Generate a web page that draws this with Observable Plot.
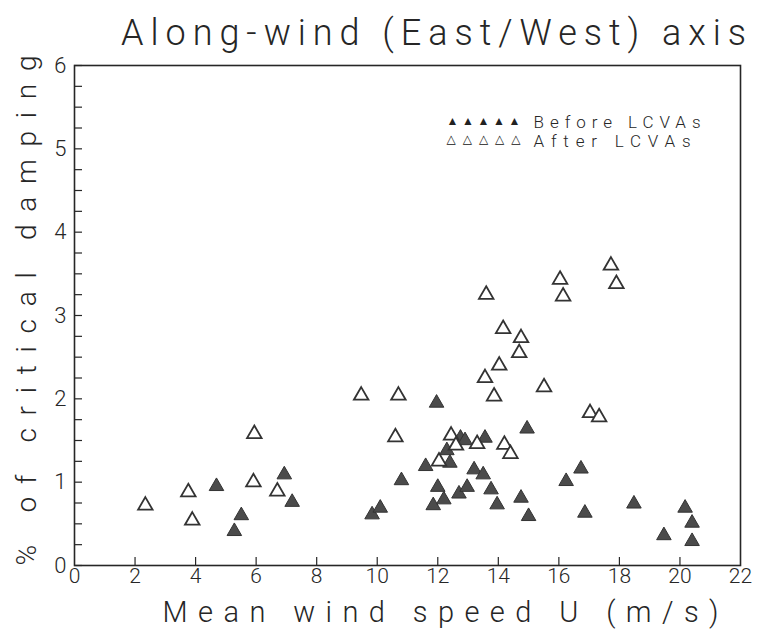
<!DOCTYPE html>
<html>
<head>
<meta charset="utf-8">
<script src="https://cdn.jsdelivr.net/npm/d3@7"></script>
<script src="https://cdn.jsdelivr.net/npm/@observablehq/plot@0.6"></script>
<style>
  html, body { margin: 0; padding: 0; background: #fff; }
  #chart svg { display: block; }
</style>
</head>
<body>
<div id="chart"></div>
<script>
// ---- data ----
const titleText = "Along-wind (East/West) axis";
const xLabel = "Mean wind speed U (m/s)";
const yLabel = "% of critical damping";
const seriesNames = ["Before LCVAs", "After LCVAs"];
const legendFilled = "▲▲▲▲▲";
const legendOpen = "△△△△△";

const xTickValues = [0, 2, 4, 6, 8, 10, 12, 14, 16, 18, 20, 22];
const xTickMarks = [2, 4, 6, 8, 10, 12, 14, 16, 18, 20];
const yTickValues = [0, 1, 2, 3, 4, 5, 6];
const yMinorTicks = d3.range(0, 6.001, 0.25);

// Before LCVAs (filled triangles)
const beforeU = [4.69, 5.28, 5.51, 6.93, 7.19, 9.83, 10.1, 10.8, 11.6, 11.85,
  11.96, 12.0, 12.2, 12.3, 12.4, 12.7, 12.75, 12.9, 12.97, 13.2,
  13.5, 13.56, 13.76, 13.96, 14.75, 14.95, 15.0, 16.24, 16.73, 16.86,
  18.48, 19.47, 20.17, 20.4, 20.4];
const beforeDamping = [0.95, 0.41, 0.60, 1.09, 0.76, 0.61, 0.69, 1.02, 1.19, 0.72,
  1.95, 0.94, 0.79, 1.38, 1.23, 0.86, 1.53, 1.50, 0.94, 1.15,
  1.09, 1.53, 0.91, 0.73, 0.81, 1.64, 0.59, 1.01, 1.16, 0.63,
  0.74, 0.36, 0.69, 0.51, 0.29];

// After LCVAs (open triangles)
const afterU = [2.34, 3.76, 3.89, 5.91, 5.94, 6.70, 9.47, 10.6, 10.7, 12.04,
  12.44, 12.6, 13.3, 13.56, 13.6, 13.86, 14.03, 14.16, 14.2, 14.4,
  14.69, 14.75, 15.51, 16.04, 16.14, 17.03, 17.33, 17.72, 17.9];
const afterDamping = [0.72, 0.88, 0.54, 1.00, 1.58, 0.89, 2.04, 1.54, 2.04, 1.25,
  1.56, 1.44, 1.46, 2.25, 3.25, 2.03, 2.40, 2.84, 1.45, 1.34,
  2.55, 2.73, 2.14, 3.43, 3.23, 1.83, 1.78, 3.60, 3.38];

const before = beforeU.map((u, i) => ({u, d: beforeDamping[i]}));
const after = afterU.map((u, i) => ({u, d: afterDamping[i]}));

const FONT = "Roboto, 'DejaVu Sans', sans-serif";
const INK = "#262626";

const chart = Plot.plot({
  width: 758,
  height: 635,
  marginLeft: 74,
  marginRight: 18,
  marginTop: 65,
  marginBottom: 70,
  x: {domain: [0, 22]},
  y: {domain: [0, 6]},
  style: {fontFamily: FONT, fontWeight: 300, color: INK, background: "#fff"},
  marks: [
    Plot.frame({stroke: INK, strokeWidth: 1.6}),
    Plot.axisY({ticks: yMinorTicks, tickSize: 8, text: null, dx: 8, stroke: INK, strokeWidth: 1.2, label: null}),
    Plot.axisY({ticks: yTickValues, tickSize: 0, tickPadding: 8, fontSize: 22, label: null, tickFormat: d => String(d)}),
    Plot.axisX({ticks: xTickMarks, tickSize: 8, text: null, dy: -8, stroke: INK, strokeWidth: 1.2, label: null}),
    Plot.axisX({ticks: xTickValues, tickSize: 0, tickPadding: 3, fontSize: 21, label: null, tickFormat: d => String(d)}),
    Plot.dot(before, {x: "u", y: "d", symbol: "triangle", r: 5.4, fill: "#4b4b4b", stroke: "#333", strokeWidth: 1}),
    Plot.dot(after, {x: "u", y: "d", symbol: "triangle", r: 5.4, fill: "#fff", stroke: "#333", strokeWidth: 1.8}),
    // legend
    Plot.text([legendFilled], {text: d => d, frameAnchor: "top-left", lineAnchor: "middle", dx: 372, dy: 56, textAnchor: "start", fontSize: 12, fontFamily: "DejaVu Sans", fill: "#222"}),
    Plot.text([legendOpen], {text: d => d, frameAnchor: "top-left", lineAnchor: "middle", dx: 372, dy: 74, textAnchor: "start", fontSize: 12, fontFamily: "DejaVu Sans", fontWeight: "bold", fill: "#111"}),
    Plot.text([seriesNames[0]], {text: d => d, frameAnchor: "top-left", lineAnchor: "middle", dx: 459, dy: 57, textAnchor: "start", fontSize: 17, fill: INK}),
    Plot.text([seriesNames[1]], {text: d => d, frameAnchor: "top-left", lineAnchor: "middle", dx: 459, dy: 76.5, textAnchor: "start", fontSize: 17, fill: INK}),
    // title & axis labels
    Plot.text([titleText], {text: d => d, frameAnchor: "top", lineAnchor: "middle", dx: 26, dy: -32, textAnchor: "middle", fontSize: 36, fill: INK}),
    Plot.text([xLabel], {text: d => d, frameAnchor: "bottom", lineAnchor: "middle", dx: 33, dy: 47, textAnchor: "middle", fontSize: 29, fill: INK}),
    Plot.text([yLabel], {text: d => d, frameAnchor: "left", lineAnchor: "middle", dx: -47, dy: -5, rotate: -90, textAnchor: "middle", fontSize: 28, fill: INK})
  ]
});

// stretch the wide-spaced plotter lettering to the reference widths
const svg = d3.select(chart);
const lengths = new Map([
  [titleText, 625], [xLabel, 556], [yLabel, 510],
  [legendFilled, 74], [legendOpen, 74],
  [seriesNames[0], 167], [seriesNames[1], 157]
]);
svg.selectAll("text").each(function () {
  const len = lengths.get(this.textContent);
  if (len) d3.select(this).attr("textLength", len).attr("lengthAdjust", "spacing");
});

document.getElementById("chart").appendChild(chart);
</script>
</body>
</html>
